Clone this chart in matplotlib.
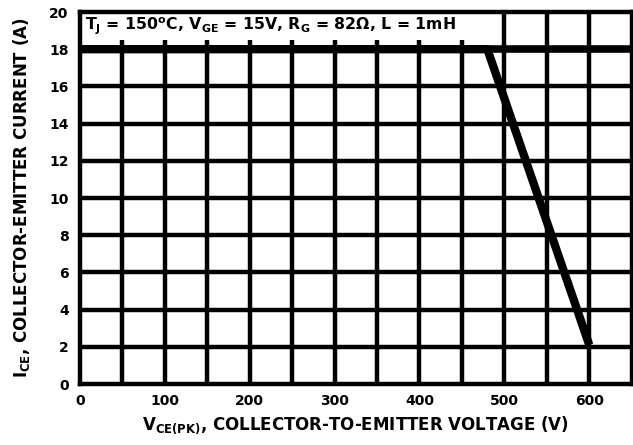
import numpy as np
import matplotlib
matplotlib.use("Agg")
import matplotlib.pyplot as plt
from matplotlib.patches import Rectangle

# --- Data ----------------------------------------------------------------
vce = [0, 480, 600]          # V
ice = [18, 18, 2.1]          # A
x_ticks = [0, 100, 200, 300, 400, 500, 600]
y_ticks = [0, 2, 4, 6, 8, 10, 12, 14, 16, 18, 20]
x_grid = np.arange(50, 650, 50)
y_grid = np.arange(2, 20, 2)

# --- Style ---------------------------------------------------------------
plt.rcParams["font.family"] = ["DejaVu Sans"]
plt.rcParams["font.weight"] = "bold"
plt.rcParams["mathtext.fontset"] = "custom"
plt.rcParams["mathtext.rm"] = "DejaVu Sans:bold"
plt.rcParams["mathtext.bf"] = "DejaVu Sans:bold"
plt.rcParams["mathtext.it"] = "DejaVu Sans:bold"

fig = plt.figure(figsize=(6.33, 4.45), dpi=100)
ax = fig.add_axes([0.126, 0.137, 0.872, 0.836])

GRID_LW = 3.2
for xg in x_grid:
    ax.axvline(xg, color="black", lw=GRID_LW, zorder=1)
for yg in y_grid:
    ax.axhline(yg, color="black", lw=5.5 if yg == 18 else GRID_LW, zorder=1)

ax.plot(vce, ice, color="black", lw=6, solid_capstyle="butt", zorder=3)

# header box over the top row (short grid stubs stay visible above 18)
ax.add_patch(Rectangle((0, 18.5), 472, 1.5, facecolor="white",
                       edgecolor="none", zorder=2))
ax.text(6, 19.25,
        r"T$_\mathbf{J}$ = 150$^\mathbf{o}$C, V$_\mathbf{GE}$ = 15V, "
        r"R$_\mathbf{G}$ = 82Ω, L = 1mH",
        fontsize=11.3, fontweight="bold", va="center", ha="left", zorder=4)

ax.set_xlim(0, 650)
ax.set_ylim(0, 20)
ax.set_xticks(x_ticks)
ax.set_yticks(y_ticks)
ax.tick_params(length=0, labelsize=10)
ax.tick_params(axis="y", pad=8)
ax.tick_params(axis="x", pad=7)
for lbl in ax.get_xticklabels() + ax.get_yticklabels():
    lbl.set_fontweight("bold")
for sp in ax.spines.values():
    sp.set_linewidth(GRID_LW)

ax.set_xlabel(r"V$_\mathbf{CE(PK)}$, COLLECTOR-TO-EMITTER VOLTAGE (V)",
              fontsize=12, fontweight="bold", labelpad=5)
ax.set_ylabel(r"I$_\mathbf{CE}$, COLLECTOR-EMITTER CURRENT (A)",
              fontsize=12, fontweight="bold", labelpad=12)

fig.savefig("out.png", dpi=100)
